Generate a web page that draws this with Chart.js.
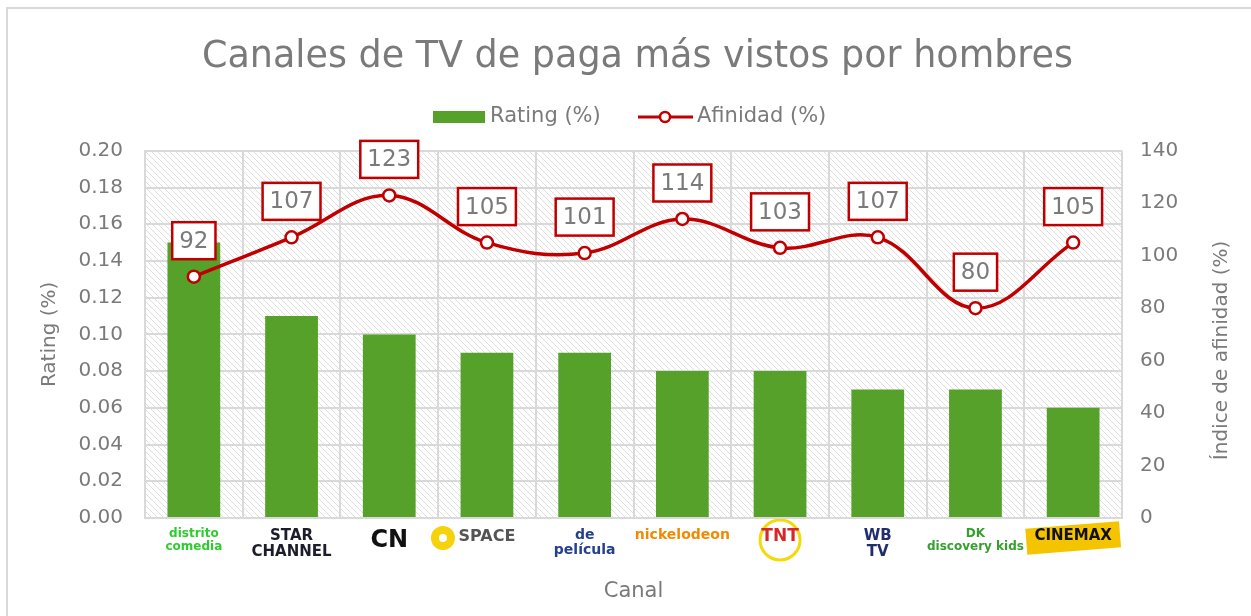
<!DOCTYPE html>
<html>
<head>
<meta charset="utf-8">
<script src="https://cdn.jsdelivr.net/npm/chart.js@4.4.1/dist/chart.umd.min.js"></script>
<style>
  html, body { margin: 0; padding: 0; background: #fff; }
  #wrap { width: 1251px; height: 616px; }
</style>
</head>
<body>
<div id="wrap"><canvas id="grafico" width="1251" height="616"></canvas></div>
<script>
// datos del grafico
const canales = [['distrito', 'comedia'], ['STAR', 'CHANNEL'], 'CN', 'SPACE', ['de', 'película'], 'nickelodeon', 'TNT', ['WB', 'TV'], ['DK', 'discovery kids'], 'CINEMAX'];
const rating = [0.15, 0.11, 0.10, 0.09, 0.09, 0.08, 0.08, 0.07, 0.07, 0.06];
const afinidad = [92, 107, 123, 105, 101, 114, 103, 107, 80, 105];
const ticksRating = [0, 0.02, 0.04, 0.06, 0.08, 0.10, 0.12, 0.14, 0.16, 0.18, 0.20];
const ticksAfinidad = [0, 20, 40, 60, 80, 100, 120, 140];
const coloresCanal = ['#2ecc2e', '#1c1c2c', '#111111', '#555555', '#24408e', '#f18a00', '#d62828', '#1f2d6e', '#35a02e', '#111111'];

const gris = '#7a7a7a';
const fuente = "'DejaVu Sans', sans-serif";

// patron rayado del fondo
function crearPatron(ctx) {
  var c = document.createElement('canvas');
  c.width = 6; c.height = 6;
  var p = c.getContext('2d');
  p.fillStyle = '#ffffff';
  p.fillRect(0, 0, 6, 6);
  p.strokeStyle = '#dedede';
  p.lineWidth = 1;
  p.beginPath();
  p.moveTo(-1, -1); p.lineTo(7, 7);
  p.moveTo(-1, 5); p.lineTo(1, 7);
  p.moveTo(5, -1); p.lineTo(7, 1);
  p.stroke();
  return ctx.createPattern(c, 'repeat');
}

const fondoPlugin = {
  id: 'fondo',
  beforeDraw(chart) {
    const ctx = chart.ctx, a = chart.chartArea;
    ctx.save();
    ctx.fillStyle = crearPatron(ctx);
    ctx.fillRect(a.left, a.top, a.right - a.left, a.bottom - a.top);
    // borde exterior (solo arriba e izquierda visibles)
    ctx.strokeStyle = '#d9d9d9';
    ctx.lineWidth = 2;
    ctx.beginPath();
    ctx.moveTo(7, chart.height); ctx.lineTo(7, 8); ctx.lineTo(chart.width, 8);
    ctx.stroke();
    // adornos de los logos del eje x
    const x = chart.scales.x;
    let px = x.getPixelForValue(6);
    ctx.strokeStyle = '#f5d90a';
    ctx.lineWidth = 3;
    ctx.beginPath(); ctx.arc(px, 540, 20, 0, Math.PI * 2); ctx.stroke();
    px = x.getPixelForValue(3);
    ctx.fillStyle = '#f5d20a';
    ctx.beginPath(); ctx.arc(px - 44, 538, 12, 0, Math.PI * 2); ctx.fill();
    ctx.fillStyle = '#ffffff';
    ctx.beginPath(); ctx.arc(px - 44, 538, 4, 0, Math.PI * 2); ctx.fill();
    px = x.getPixelForValue(9);
    ctx.translate(px, 538);
    ctx.rotate(-0.08);
    ctx.fillStyle = '#f5c400';
    ctx.fillRect(-47, -13, 94, 26);
    ctx.restore();
  }
};

// leyenda dibujada a mano (barra + linea con marcador) y titulo del eje derecho
const leyendaPlugin = {
  id: 'leyenda',
  afterDraw(chart) {
    const ctx = chart.ctx;
    const y = 117;
    ctx.save();
    ctx.font = '21px ' + fuente;
    ctx.textBaseline = 'middle';
    ctx.fillStyle = '#56a12a';
    ctx.fillRect(433, y - 6, 52, 12);
    ctx.fillStyle = gris;
    ctx.fillText(chart.data.datasets[0].label, 490, y);
    ctx.strokeStyle = '#c00000';
    ctx.lineWidth = 3;
    ctx.beginPath(); ctx.moveTo(638, y); ctx.lineTo(693, y); ctx.stroke();
    ctx.beginPath(); ctx.arc(665, y, 5, 0, Math.PI * 2);
    ctx.fillStyle = '#fff'; ctx.fill(); ctx.lineWidth = 2.5; ctx.stroke();
    ctx.fillStyle = gris;
    ctx.fillText(chart.data.datasets[1].label, 697, y);

    const a = chart.chartArea;
    ctx.font = '20px ' + fuente;
    ctx.translate(1222, (a.top + a.bottom) / 2 + 16);
    ctx.rotate(-Math.PI / 2);
    ctx.textAlign = 'center';
    ctx.fillText('Índice de afinidad (%)', 0, 0);
    ctx.restore();
  }
};

// etiquetas con recuadro rojo sobre cada punto
const etiquetasPlugin = {
  id: 'etiquetas',
  afterDatasetsDraw(chart) {
    const ctx = chart.ctx;
    const meta = chart.getDatasetMeta(1);
    ctx.save();
    ctx.font = '23px ' + fuente;
    ctx.textAlign = 'center';
    ctx.textBaseline = 'middle';
    meta.data.forEach(function(pt, i) {
      const txt = String(afinidad[i]);
      const w = ctx.measureText(txt).width + 14;
      const h = 37;
      const cy = pt.y - 36;
      ctx.fillStyle = '#ffffff';
      ctx.fillRect(pt.x - w / 2, cy - h / 2, w, h);
      ctx.strokeStyle = '#c00000';
      ctx.lineWidth = 2.5;
      ctx.strokeRect(pt.x - w / 2, cy - h / 2, w, h);
      ctx.fillStyle = gris;
      ctx.fillText(txt, pt.x, cy + 1);
    });
    ctx.restore();
  }
};

var ctxGrafico = document.getElementById('grafico').getContext('2d');
var grafico = new Chart(ctxGrafico, {
  type: 'bar',
  data: {
    labels: canales,
    datasets: [{
      type: 'bar',
      label: 'Rating (%)',
      data: rating,
      backgroundColor: '#56a12a',
      categoryPercentage: 1,
      barPercentage: 0.54,
      yAxisID: 'y',
      order: 2
    }, {
      type: 'line',
      label: 'Afinidad (%)',
      data: afinidad,
      borderColor: '#c00000',
      borderWidth: 3.5,
      tension: 0.38,
      pointRadius: 6,
      pointBorderWidth: 2.5,
      pointBackgroundColor: '#ffffff',
      pointBorderColor: '#c00000',
      yAxisID: 'y1',
      order: 1
    }]
  },
  options: {
    responsive: false,
    animation: false,
    layout: { padding: { left: 38, right: 14, bottom: 12, top: 0 } },
    plugins: {
      legend: { display: false },
      tooltip: { enabled: false },
      title: {
        display: true,
        text: 'Canales de TV de paga más vistos por hombres',
        color: gris,
        font: { family: fuente, size: 36.5, weight: 'normal' },
        padding: { top: 36, bottom: 71 }
      }
    },
    scales: {
      x: {
        grid: { color: '#d9d9d9', lineWidth: 2, offset: true, drawTicks: false },
        border: { color: '#d9d9d9', width: 2 },
        ticks: {
          padding: 10,
          maxRotation: 0,
          minRotation: 0,
          autoSkip: false,
          color: function(c) { return coloresCanal[c.index]; },
          font: function(c) {
            var tam = [12, 15, 24, 16, 14, 14, 17, 15, 12, 15][c.index];
            return { family: fuente, size: tam, weight: 'bold', lineHeight: 1.05 };
          }
        },
        title: { display: true, text: 'Canal', color: gris, font: { family: fuente, size: 21 }, padding: { top: 0, bottom: 0 } },
        afterFit: function(s) { s.height = 86; }
      },
      y: {
        position: 'left',
        min: 0, max: 0.20,
        afterBuildTicks: function(s) { s.ticks = ticksRating.map(v => ({ value: v })); },
        ticks: { color: gris, font: { family: fuente, size: 20 }, padding: 22, callback: v => v.toFixed(2) },
        grid: { color: '#d9d9d9', lineWidth: 2, drawTicks: false },
        border: { color: '#d9d9d9', width: 2 },
        title: { display: true, text: 'Rating (%)', color: gris, font: { family: fuente, size: 20 }, padding: 0 },
        afterFit: function(s) { s.width = 107; }
      },
      y1: {
        position: 'right',
        min: 0, max: 140,
        afterBuildTicks: function(s) { s.ticks = ticksAfinidad.map(v => ({ value: v })); },
        ticks: { color: gris, font: { family: fuente, size: 20 }, padding: 18 },
        grid: { display: false, drawTicks: false },
        border: { display: false },
        title: { display: false },
        afterFit: function(s) { s.width = 115; }
      }
    }
  },
  plugins: [fondoPlugin, leyendaPlugin, etiquetasPlugin]
});
</script>
</body>
</html>
